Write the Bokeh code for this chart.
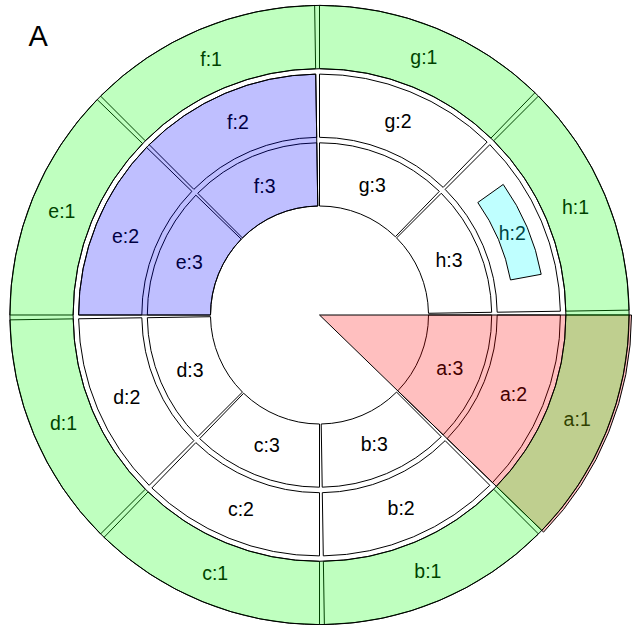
import numpy as np
from bokeh.plotting import figure
from bokeh.models import Range1d, ColumnDataSource
from bokeh.embed import file_html
from bokeh.resources import INLINE
from bokeh.core.properties import value

# ---- data ----
categories = ["a", "b", "c", "d", "e", "f", "g", "h"]
levels = [1, 2, 3]            # 1 = outer ring, 3 = inner ring
panel_label = "A"

green_levels = [1]                    # whole ring highlighted green
blue_categories = ["e", "f"]          # blue highlighted block
blue_levels = [2, 3]
red_category = "a"                    # red sector
cyan_cell = ("h", 2)                  # cyan inset cell

# ---- layout ----
W, H = 637, 625
CX, CY = 319, 314.5        # centre in figure pixels (from top-left)
S = 1.0
R0 = 109 * S
STEP = 68.7 * S
RGAP = 5.5 * S
AGAP = 0.9
SPAN = 360.0 / len(categories)
FONT = "Liberation Sans"


def ring(level):
    k = 3 - level
    r_in = R0 + k * STEP
    return r_in, r_in + STEP - RGAP


def cell_angles(cat):
    i = categories.index(cat)
    return -SPAN * (i + 1) + AGAP, -SPAN * i


p = figure(width=W, height=H, output_backend="svg", toolbar_location=None,
           x_range=Range1d(-CX, W - CX), y_range=Range1d(-(H - CY), CY),
           min_border=0)
p.axis.visible = False
p.grid.visible = False
p.outline_line_color = None
p.background_fill_color = "white"
p.border_fill_color = "white"

# cells
xs, ys, rin, rout, sa, ea, lab = [], [], [], [], [], [], []
for c in categories:
    a0, a1 = cell_angles(c)
    for lv in levels:
        r_in, r_out = ring(lv)
        rin.append(r_in); rout.append(r_out); sa.append(a0); ea.append(a1)
        am = np.deg2rad((a0 + a1) / 2)
        rm = (r_in + r_out) / 2
        xs.append(rm * np.cos(am)); ys.append(rm * np.sin(am))
        lab.append(f"{c}:{lv}")

src = ColumnDataSource(dict(x=[0] * len(rin), y=[0] * len(rin), rin=rin, rout=rout,
                            sa=sa, ea=ea, tx=xs, ty=ys, lab=lab))
p.annular_wedge(x="x", y="y", inner_radius="rin", outer_radius="rout",
                start_angle="sa", end_angle="ea", start_angle_units="deg",
                end_angle_units="deg", source=src, fill_color="white",
                line_color="black", line_width=1)
p.text(x="tx", y="ty", text="lab", source=src, text_align="center",
       text_baseline="middle", text_font=value(FONT), text_font_size="19.5px",
       text_color="black")

# red sector
ra0, ra1 = cell_angles(red_category)
p.wedge(x=0, y=0, radius=312 * S, start_angle=ra0, end_angle=ra1,
        start_angle_units="deg", end_angle_units="deg",
        fill_color=(255, 0, 0), fill_alpha=0.25, line_color="black", line_width=1)

# blue block
b_angles = [cell_angles(c) for c in blue_categories]
b_start = min(a[0] for a in b_angles)
b_end = max(a[1] for a in b_angles)
b_rin = min(ring(l)[0] for l in blue_levels)
b_rout = max(ring(l)[1] for l in blue_levels)
p.annular_wedge(x=0, y=0, inner_radius=b_rin, outer_radius=b_rout,
                start_angle=b_start, end_angle=b_end, start_angle_units="deg",
                end_angle_units="deg", fill_color=(0, 0, 255), fill_alpha=0.25,
                line_color="black", line_width=1)

# cyan inset
c0, c1 = cell_angles(cyan_cell[0])
cr_in, cr_out = ring(cyan_cell[1])
p.annular_wedge(x=0, y=0, inner_radius=cr_in + 16.5 * S, outer_radius=cr_out - 15.5 * S,
                start_angle=c0 + 9.5, end_angle=c1 - 9.6, start_angle_units="deg",
                end_angle_units="deg", fill_color=(0, 255, 255), fill_alpha=0.25,
                line_color="black", line_width=1)

# green ring
for lv in green_levels:
    g_in, g_out = ring(lv)
    p.annulus(x=0, y=0, inner_radius=g_in, outer_radius=g_out,
              fill_color=(0, 255, 0), fill_alpha=0.25, line_color="black", line_width=1)

# panel label
p.text(x=[28 - CX], y=[CY - 35], text=[panel_label], text_align="left",
       text_baseline="alphabetic", text_font=value(FONT), text_font_size="29px",
       text_color="black")

open("out.html", "w").write(file_html(p, INLINE))
